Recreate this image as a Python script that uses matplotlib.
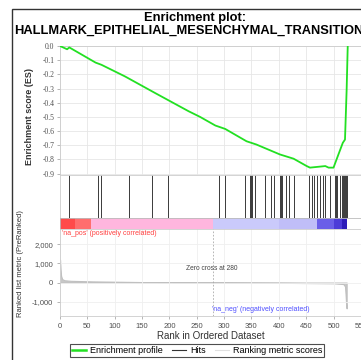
import matplotlib
matplotlib.use("Agg")
import matplotlib.pyplot as plt
from matplotlib.lines import Line2D
from matplotlib.patches import Rectangle

# Running enrichment score (rank, ES)
es_rank = [0, 13, 17, 65, 76, 119, 174, 235, 256, 284, 302, 341, 359, 402,
           427, 451, 457, 485, 491, 500, 509, 517, 521, 524, 526]
es_val = [0.0, -0.023, -0.01, -0.117, -0.133, -0.215, -0.332, -0.46, -0.50,
          -0.561, -0.585, -0.672, -0.695, -0.765, -0.795, -0.847, -0.858,
          -0.847, -0.858, -0.858, -0.765, -0.683, -0.66, -0.31, 0.0]

# Positions of gene-set members in the ranked list
hits = [16, 69, 75, 127, 168, 197, 290, 302, 338, 347, 349, 351, 357, 374,
        386, 392, 403, 404, 406, 413, 418, 427, 456, 460, 464, 470, 475, 480,
        485, 494, 503, 504, 506, 511, 515, 517, 519, 521, 522, 524]

# Ranked list metric (rank, score)
metric_rank = [0, 1, 2, 4, 8, 20, 60, 150, 280, 400, 500, 518, 521, 522, 523, 524]
metric_val = [1200, 700, 350, 180, 120, 90, 60, 25, 0, -15, -40, -80, -200,
              -600, -1100, -1350]

# Heat-map bands of the ranked list
band_edges = [0, 27, 57, 280, 400, 470, 500, 515, 525]
band_colors = ['#ff4a4a', '#ff6e6e', '#ffb6de', '#cacafb', '#c0bef8',
               '#6a5ee8', '#4c3cd8', '#2c1cb8']

zero_cross = 280
x_ticks = [0, 50, 100, 150, 200, 250, 300, 350, 400, 450, 500, 550]
es_ticks = [0.0, -0.1, -0.2, -0.3, -0.4, -0.5, -0.6, -0.7, -0.8, -0.9]
metric_ticks = [2000, 1000, 0, -1000]
metric_tick_labels = ["2,000", "1,000", "0", "-1,000"]

W, H = 361, 360
fig = plt.figure(figsize=(W / 100, H / 100), dpi=100)
plt.rcParams['font.family'] = ['Liberation Sans', 'DejaVu Sans']


def box(top, bottom, left=60, right=362.5):
    return [left / W, 1 - bottom / H, (right - left) / W, (bottom - top) / H]


xmax = 553
tick_gray = '#505050'
grid_gray = '#e6e6e6'

# Outer frame
fig.patches.append(Rectangle((12 / W, -0.1), 1.2, 1 - 8.5 / H + 0.1,
                             transform=fig.transFigure, fill=False,
                             edgecolor='#333333', lw=1.0))

fig.text(195 / W, 1 - 18.5 / H, "Enrichment plot:", ha='center', va='center',
         fontsize=9.3, fontweight='bold')
fig.text(14 / W, 1 - 31 / H, "HALLMARK_EPITHELIAL_MESENCHYMAL_TRANSITION",
         ha='left', va='center', fontsize=9.3, fontweight='bold')

# Enrichment score panel
ax1 = fig.add_axes(box(46, 175))
ax1.plot(es_rank, es_val, color='#22e022', lw=1.3, zorder=3)
ax1.set_xlim(0, xmax)
ax1.set_ylim(-0.91, 0.0)
ax1.set_xticks(x_ticks)
ax1.set_yticks(es_ticks)
ax1.set_yticklabels([f"{t:.1f}" for t in es_ticks], fontsize=5.5,
                    color=tick_gray, family='Liberation Serif')
ax1.tick_params(axis='x', length=0, labelbottom=False)
ax1.tick_params(axis='y', length=2, width=0.5, color='#999999', pad=2)
ax1.grid(True, color=grid_gray, lw=0.6)
for s in ax1.spines.values():
    s.set_color('#cccccc')
    s.set_linewidth(0.6)
ax1.set_ylabel("Enrichment score (ES)", fontsize=6.5, fontweight='bold',
               color='#333333')
ax1.yaxis.set_label_coords(-0.085, 0.45)

# Hits panel
ax2 = fig.add_axes(box(175, 218))
ax2.vlines(hits, 0, 1, color='#3a3a3a', lw=0.7)
ax2.set_xlim(0, xmax)
ax2.set_ylim(0, 1)
ax2.set_xticks([])
ax2.set_yticks([])
for s in ax2.spines.values():
    s.set_color('#cccccc')
    s.set_linewidth(0.6)

# Heat-map bar
ax3 = fig.add_axes(box(218, 229))
for i, c in enumerate(band_colors):
    ax3.axvspan(band_edges[i], band_edges[i + 1], color=c, lw=0)
ax3.set_xlim(0, xmax)
ax3.set_ylim(0, 1)
ax3.set_xticks([])
ax3.set_yticks([])
for s in ax3.spines.values():
    s.set_color('#bbbbbb')
    s.set_linewidth(0.6)

# Ranked list metric panel
ax4 = fig.add_axes(box(229, 316))
ax4.fill_between(metric_rank, 0, metric_val, color='#c8c8c8', lw=0.8,
                 edgecolor='#c0c0c0')
ax4.axvline(zero_cross, color='#aaaaaa', lw=0.6, ls=(0, (2, 2)))
ax4.set_xlim(0, xmax)
ax4.set_ylim(-1750, 2800)
ax4.set_xticks(x_ticks)
ax4.set_xticklabels([str(t) for t in x_ticks], fontsize=5.5, color=tick_gray)
ax4.set_yticks(metric_ticks)
ax4.set_yticklabels(metric_tick_labels, fontsize=5.5, color=tick_gray)
ax4.tick_params(length=2, width=0.5, color='#999999', pad=3)
ax4.grid(True, color='#efefef', lw=0.6)
for s in ax4.spines.values():
    s.set_color('#cccccc')
    s.set_linewidth(0.6)
ax4.set_xlabel("Rank in Ordered Dataset", fontsize=7, color='#333333',
               labelpad=1)
ax4.set_ylabel("Ranked list metric (PreRanked)", fontsize=5.5, color='#333333')
ax4.yaxis.set_label_coords(-0.12, 0.6)
ax4.text(3, 2550, "'na_pos' (positively correlated)", fontsize=5,
         color='#ff4040', va='center')
ax4.text(zero_cross - 3, 740, "Zero cross at 280", fontsize=4.8,
         color='#444444', va='center', ha='center')
ax4.text(zero_cross - 2, -1400, "'na_neg' (negatively correlated)", fontsize=5,
         color='#5050ff', va='center', ha='left')

# Legend
handles = [Line2D([], [], color='#22e022', lw=1.8),
           Line2D([], [], color='#333333', lw=0.8),
           Line2D([], [], color='#e0e0e0', lw=0.8)]
labels = ["Enrichment profile", "Hits", "Ranking metric scores"]
leg = fig.legend(handles, labels, loc='center', ncol=3,
                 bbox_to_anchor=(197 / W, 1 - 350.5 / H), fontsize=6.5,
                 frameon=True, fancybox=False, handlelength=1.6,
                 handletextpad=0.4, columnspacing=1.0, borderpad=0.25)
leg.get_frame().set_edgecolor('#222222')
leg.get_frame().set_linewidth(0.8)

fig.savefig("out.png", dpi=100)
